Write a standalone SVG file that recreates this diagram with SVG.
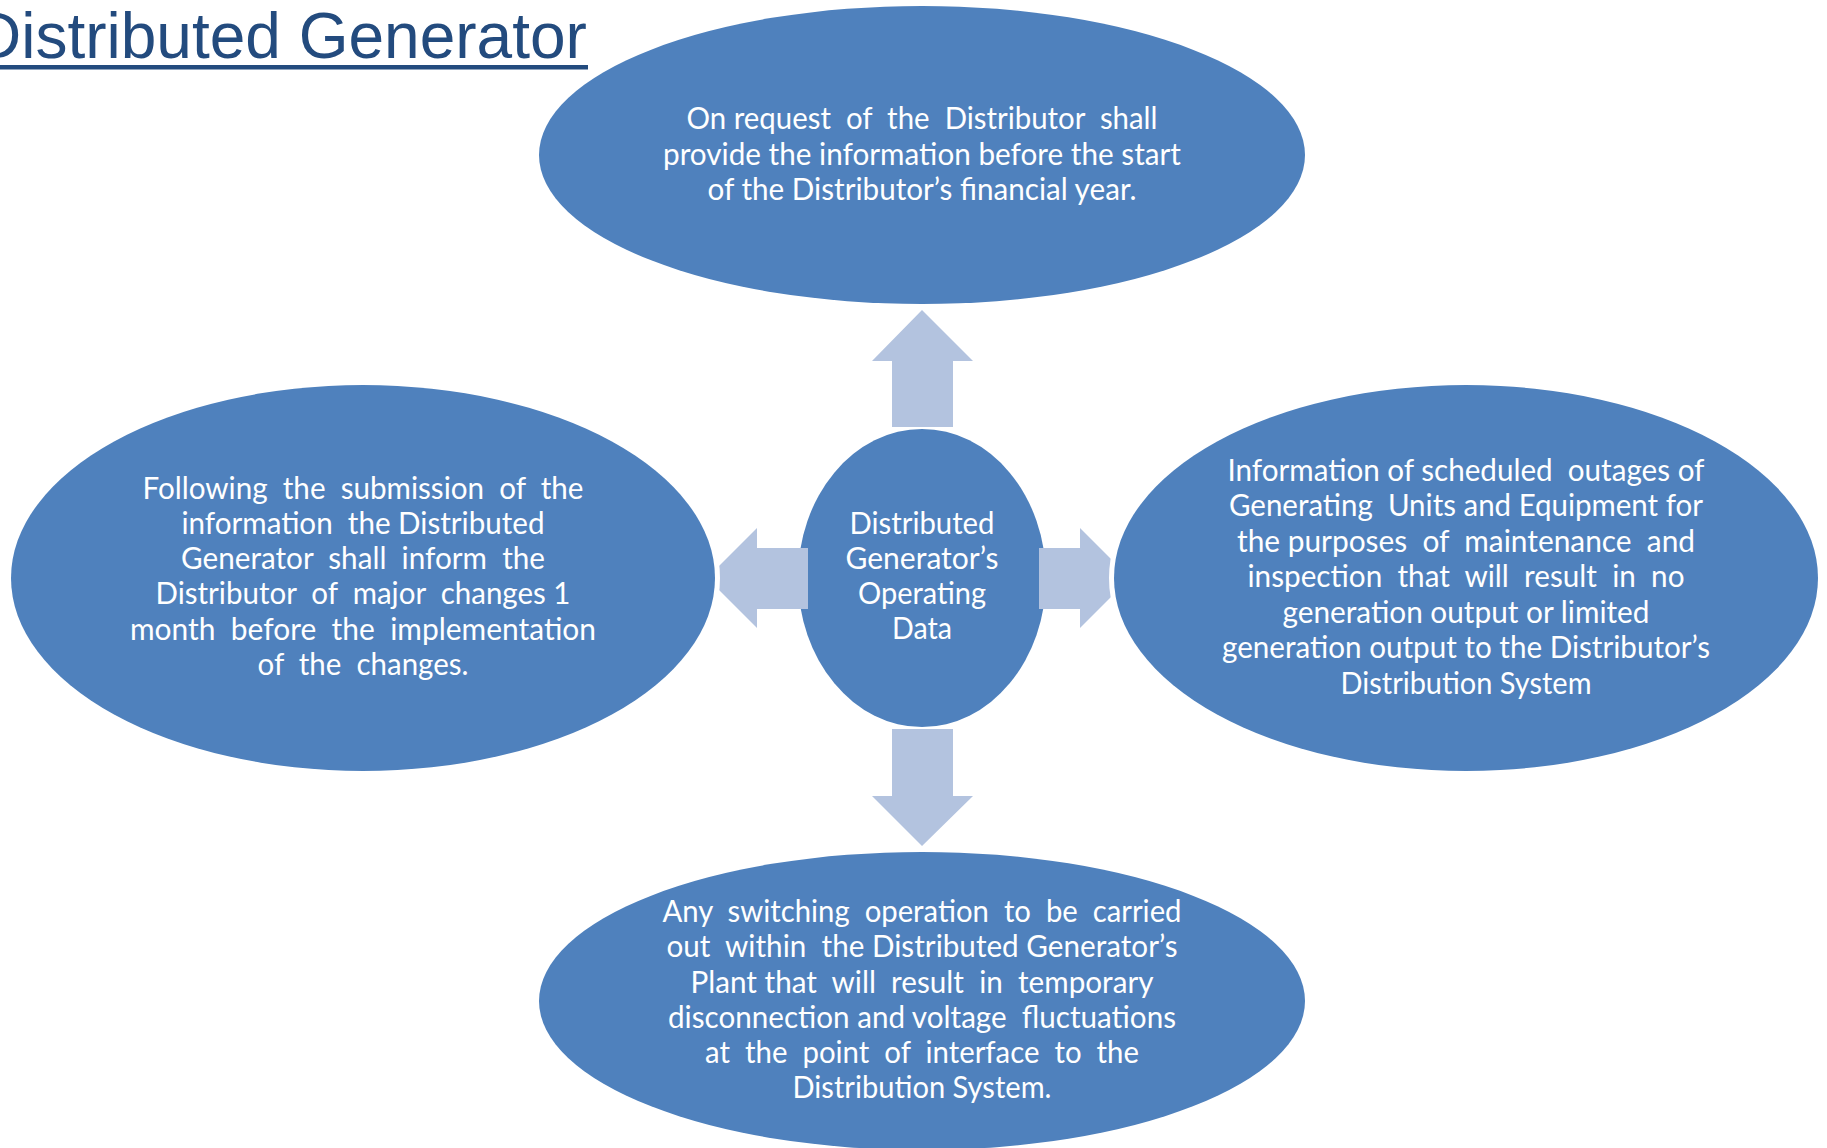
<svg xmlns="http://www.w3.org/2000/svg" width="1827" height="1148" viewBox="0 0 1827 1148">
<style>
.bg{fill:#ffffff}
.node{fill:#4F81BD}
.outer{fill:#4F81BD;stroke:#ffffff;stroke-width:10;paint-order:stroke}
.arrow{fill:#B3C3DF}
.t{font-family:Lato,"Open Sans","Liberation Sans",sans-serif;font-size:30px;fill:#ffffff;text-anchor:middle;white-space:pre}
.title{font-family:"Liberation Sans",Arial,sans-serif;font-size:64px;fill:#234B7E}
</style>
<rect class="bg" x="0" y="0" width="1827" height="1148"/>
<g id="title">
<text class="title" x="-25" y="58">Distributed Generator</text>
<rect x="0" y="65" width="588" height="4.5" fill="#234B7E"/>
</g>
<g id="center">
<ellipse class="node" cx="922" cy="578" rx="124" ry="149"/>
<text class="t" x="922" y="534" textLength="145" lengthAdjust="spacingAndGlyphs">Distributed</text>
<text class="t" x="922" y="569" textLength="153" lengthAdjust="spacingAndGlyphs">Generator’s</text>
<text class="t" x="922" y="604" textLength="128" lengthAdjust="spacingAndGlyphs">Operating</text>
<text class="t" x="922" y="639" textLength="60" lengthAdjust="spacingAndGlyphs">Data</text>
</g>
<g id="connectors">
<polygon class="arrow" points="892,427 892,361 872,361 922,310 973,361 953,361 953,427"/>
<polygon class="arrow" points="892,729 953,729 953,796 973,796 922,846 872,796 892,796"/>
<polygon class="arrow" points="808,548 757,548 757,528 707,578 757,628 757,609 808,609"/>
<polygon class="arrow" points="1039,548 1080,548 1080,528 1130,578 1080,628 1080,609 1039,609"/>
</g>
<g id="top">
<ellipse class="outer" cx="922" cy="155" rx="383" ry="149"/>
<text class="t" x="922" y="129" textLength="471" lengthAdjust="spacingAndGlyphs">On request  of  the  Distributor  shall</text>
<text class="t" x="922" y="164.5" textLength="518" lengthAdjust="spacingAndGlyphs">provide the information before the start</text>
<text class="t" x="922" y="200" textLength="429" lengthAdjust="spacingAndGlyphs">of the Distributor’s financial year.</text>
</g>
<g id="left">
<ellipse class="outer" cx="363" cy="578" rx="352" ry="193"/>
<text class="t" x="363" y="499" textLength="441" lengthAdjust="spacingAndGlyphs">Following  the  submission  of  the</text>
<text class="t" x="363" y="534" textLength="363" lengthAdjust="spacingAndGlyphs">information  the Distributed</text>
<text class="t" x="363" y="569" textLength="364" lengthAdjust="spacingAndGlyphs">Generator  shall  inform  the</text>
<text class="t" x="363" y="604" textLength="415" lengthAdjust="spacingAndGlyphs">Distributor  of  major  changes 1</text>
<text class="t" x="363" y="640" textLength="466" lengthAdjust="spacingAndGlyphs">month  before  the  implementation</text>
<text class="t" x="363" y="675" textLength="211" lengthAdjust="spacingAndGlyphs">of  the  changes.</text>
</g>
<g id="right">
<ellipse class="outer" cx="1466" cy="578" rx="352" ry="193"/>
<text class="t" x="1466" y="481" textLength="477" lengthAdjust="spacingAndGlyphs">Information of scheduled  outages of</text>
<text class="t" x="1466" y="516" textLength="474" lengthAdjust="spacingAndGlyphs">Generating  Units and Equipment for</text>
<text class="t" x="1466" y="552" textLength="458" lengthAdjust="spacingAndGlyphs">the purposes  of  maintenance  and</text>
<text class="t" x="1466" y="587" textLength="437" lengthAdjust="spacingAndGlyphs">inspection  that  will  result  in  no</text>
<text class="t" x="1466" y="623" textLength="367" lengthAdjust="spacingAndGlyphs">generation output or limited</text>
<text class="t" x="1466" y="658" textLength="488" lengthAdjust="spacingAndGlyphs">generation output to the Distributor’s</text>
<text class="t" x="1466" y="694" textLength="251" lengthAdjust="spacingAndGlyphs">Distribution System</text>
</g>
<g id="bottom">
<ellipse class="outer" cx="922" cy="1001" rx="383" ry="149"/>
<text class="t" x="922" y="922" textLength="519" lengthAdjust="spacingAndGlyphs">Any  switching  operation  to  be  carried</text>
<text class="t" x="922" y="957" textLength="511" lengthAdjust="spacingAndGlyphs">out  within  the Distributed Generator’s</text>
<text class="t" x="922" y="993" textLength="463" lengthAdjust="spacingAndGlyphs">Plant that  will  result  in  temporary</text>
<text class="t" x="922" y="1028" textLength="508" lengthAdjust="spacingAndGlyphs">disconnection and voltage  fluctuations</text>
<text class="t" x="922" y="1063" textLength="434" lengthAdjust="spacingAndGlyphs">at  the  point  of  interface  to  the</text>
<text class="t" x="922" y="1098" textLength="259" lengthAdjust="spacingAndGlyphs">Distribution System.</text>
</g>
</svg>
